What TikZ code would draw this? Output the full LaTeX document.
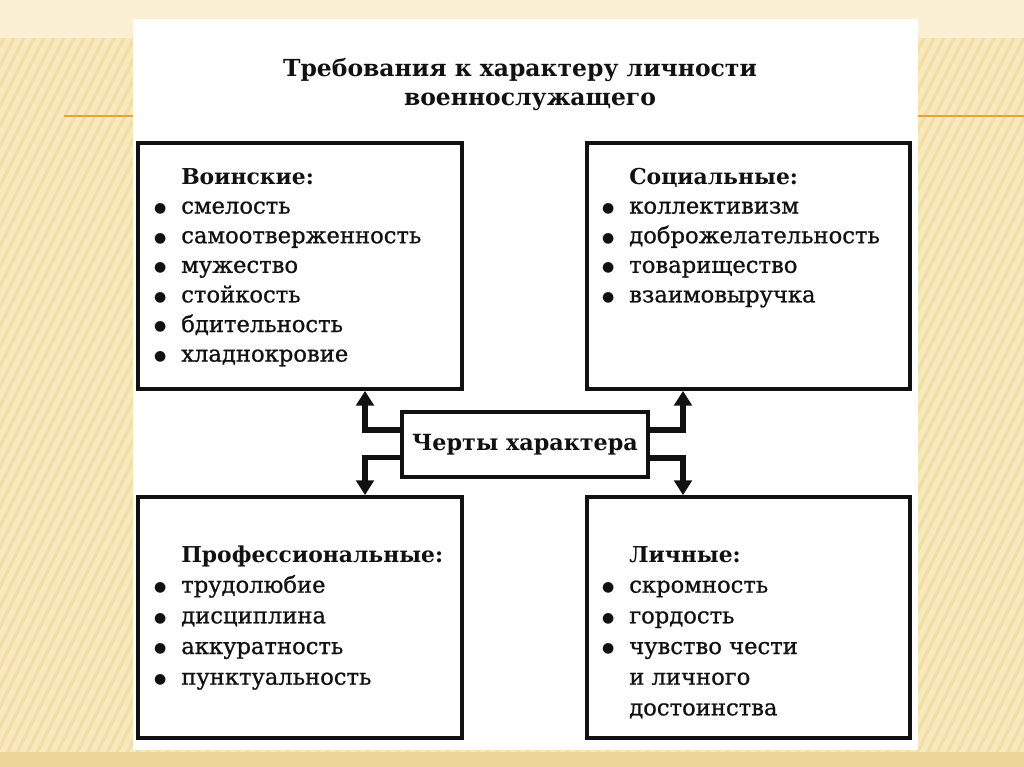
\documentclass[tikz,border=0pt]{standalone}
\usepackage{fontspec}
\setmainfont{DejaVu Serif}
\newfontfamily\itemfont{DejaVu Serif}[FakeBold=0.9]
\newfontfamily\symfont{DejaVu Sans}
\usetikzlibrary{arrows.meta,calc}
\definecolor{bgtop}{HTML}{FBF0D4}
\definecolor{bgmid}{HTML}{F8E8BD}
\definecolor{bgstripe}{HTML}{F2DEA8}
\definecolor{bgbot}{HTML}{EDD59A}
\definecolor{rule}{HTML}{E9A23B}
\definecolor{ink}{HTML}{111111}
\newcommand{\bul}{\llap{\makebox[31.5pt][c]{\raisebox{0.9pt}{\symfont\fontsize{10.5}{10}\selectfont ●}}}}
\newcommand{\hd}[1]{{\normalfont\fontsize{16.4}{20}\selectfont\bfseries #1}}
\tikzset{
  box/.style={draw=ink, line width=2.8pt, fill=white, inner sep=0pt},
  listtxt/.style={inner sep=0pt, anchor=base west, text=ink, font=\itemfont\fontsize{17}{#1}\selectfont},
  titletxt/.style={inner sep=0pt, anchor=base, text=ink, font=\fontsize{17.6}{21}\selectfont\bfseries},
  conn/.style={draw=ink, line width=4.4pt, -{Triangle[length=11pt,width=13pt]}},
  stripe/.style={draw=bgstripe, line width=2.5pt}
}
\begin{document}
\begin{tikzpicture}[x=0.75pt,y=-0.75pt]
\useasboundingbox (0,0) rectangle (1024,767);
% background
\fill[bgmid] (0,0) rectangle (1024,767);
\begin{scope}
\clip (0,38) rectangle (1024,752);
\foreach \i in {-420,-410,...,1030} \draw[stripe] (\i,767) -- ++(383,-767);
\end{scope}
\fill[bgtop] (0,0) rectangle (1024,38);
\fill[bgbot] (0,752) rectangle (1024,767);
\draw[rule, line width=1.6pt] (64,116) -- (1024,116);
% white sheet
\fill[white] (133,19) rectangle (918,750);
% title
\node[titletxt] (t1) at (520,77) {Требования к характеру личности};
\node[titletxt] (t2) at (530,105) {военнослужащего};
% boxes
\node[box, minimum width=243pt, minimum height=184.5pt] (tl) at (300,266) {};
\node[box, minimum width=242.25pt, minimum height=184.5pt] (tr) at (748.5,266) {};
\node[box, minimum width=243pt, minimum height=180.75pt] (bl) at (300,617.5) {};
\node[box, minimum width=242.25pt, minimum height=180.75pt] (br) at (748.5,617.5) {};
\node[box, minimum width=184.5pt, minimum height=48.75pt, font=\fontsize{16.7}{21}\selectfont\bfseries, text=ink] (cb) at (525,444.5) {Черты характера};
% box texts
\node[listtxt=22.2] (tltext) at (181,184) {\begin{tabular}[t]{@{}l@{}}
\hd{Воинские:}\\
\bul смелость\\
\bul самоотверженность\\
\bul мужество\\
\bul стойкость\\
\bul бдительность\\
\bul хладнокровие
\end{tabular}};
\node[listtxt=22.2] (trtext) at (629,184) {\begin{tabular}[t]{@{}l@{}}
\hd{Социальные:}\\
\bul коллективизм\\
\bul доброжелательность\\
\bul товарищество\\
\bul взаимовыручка
\end{tabular}};
\node[listtxt=23] (bltext) at (181,562) {\begin{tabular}[t]{@{}l@{}}
\hd{Профессиональные:}\\
\bul трудолюбие\\
\bul дисциплина\\
\bul аккуратность\\
\bul пунктуальность
\end{tabular}};
\node[listtxt=23] (brtext) at (629,562) {\begin{tabular}[t]{@{}l@{}}
\hd{Личные:}\\
\bul скромность\\
\bul гордость\\
\bul чувство чести\\
и личного\\
достоинства
\end{tabular}};
% connectors
\draw[conn] ($(cb.west)+(0,-14.5)$) -| ($(tl.south)+(65,0)$);
\draw[conn] ($(cb.west)+(0,13)$) -| ($(bl.north)+(65,0)$);
\draw[conn] ($(cb.east)+(0,-14.5)$) -| ($(tr.south)+(-65.5,0)$);
\draw[conn] ($(cb.east)+(0,13.5)$) -| ($(br.north)+(-65.5,0)$);
\end{tikzpicture}
\end{document}
